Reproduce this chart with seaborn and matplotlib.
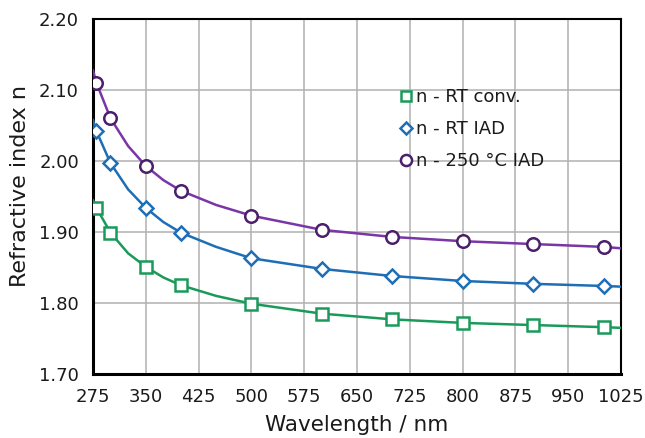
import matplotlib
matplotlib.use("Agg")
import matplotlib.pyplot as plt
import seaborn as sns
import pandas as pd

# measured points (markers)
wl = [280, 300, 350, 400, 500, 600, 700, 800, 900, 1000]
n_rt_conv = [1.934, 1.899, 1.851, 1.825, 1.799, 1.785, 1.777, 1.772, 1.769, 1.766]
n_rt_iad = [2.042, 1.997, 1.934, 1.899, 1.863, 1.848, 1.838, 1.831, 1.827, 1.824]
n_250_iad = [2.110, 2.060, 1.993, 1.958, 1.923, 1.903, 1.893, 1.887, 1.883, 1.879]

# fitted curves
wl_line = [275, 280, 300, 325, 350, 375, 400, 450, 500, 600, 700, 800, 900, 1000, 1025]
line_rt_conv = [1.945, 1.934, 1.899, 1.870, 1.851, 1.836, 1.825, 1.810, 1.799, 1.785, 1.777, 1.772, 1.769, 1.766, 1.765]
line_rt_iad = [2.058, 2.042, 1.997, 1.960, 1.934, 1.914, 1.899, 1.879, 1.863, 1.848, 1.838, 1.831, 1.827, 1.824, 1.823]
line_250_iad = [2.128, 2.110, 2.060, 2.021, 1.993, 1.973, 1.958, 1.938, 1.923, 1.903, 1.893, 1.887, 1.883, 1.879, 1.877]

labels = ["n - RT conv.", "n - RT IAD", "n - 250 °C IAD"]
x_ticks = [275, 350, 425, 500, 575, 650, 725, 800, 875, 950, 1025]
y_ticks = [1.70, 1.80, 1.90, 2.00, 2.10, 2.20]

sns.set_style("white")
plt.rcParams['font.family'] = ['DejaVu Sans']

fig = plt.figure(figsize=(6.45, 4.38), dpi=100)
ax = fig.add_axes([0.144, 0.146, 0.819, 0.811])

specs = [
    (line_rt_conv, n_rt_conv, "#1A9A5A", "#1A9A5A", "s", 8.5),
    (line_rt_iad, n_rt_iad, "#1E6EB6", "#1E6EB6", "D", 7.5),
    (line_250_iad, n_250_iad, "#7A35A6", "#4A1F6B", "o", 9),
]
handles = []
for (ly, my, lc, mc, mk, ms), lab in zip(specs, labels):
    dfl = pd.DataFrame({"x": wl_line, "y": ly})
    sns.lineplot(data=dfl, x="x", y="y", ax=ax, color=lc, lw=1.8, zorder=3)
    dfm = pd.DataFrame({"x": wl, "y": my})
    ax.plot(dfm["x"], dfm["y"], ls="none", marker=mk, ms=ms, mfc="white",
            mec=mc, mew=1.8, zorder=4)
    h, = ax.plot([], [], ls="none", marker=mk, ms=ms - 1, mfc="white", mec=mc, mew=1.8)
    handles.append(h)

ax.set_xlim(275, 1025)
ax.set_ylim(1.70, 2.20)
ax.set_xticks(x_ticks)
ax.set_yticks(y_ticks)
ax.set_yticklabels([f"{v:.2f}" for v in y_ticks])
ax.grid(True, color="#B0B0B0", lw=1.1)
ax.set_axisbelow(True)
for s in ax.spines.values():
    s.set_visible(True)
    s.set_color("black")
    s.set_linewidth(1.5)
ax.spines["left"].set_linewidth(2.2)
ax.spines["bottom"].set_linewidth(2.2)
ax.tick_params(axis="both", direction="out", length=5, width=1, color="#333333",
               labelsize=13, labelcolor="#1a1a1a", pad=5)
ax.set_xlabel("Wavelength / nm", fontsize=15.5, color="#1a1a1a", labelpad=6.5)
ax.set_ylabel("Refractive index n", fontsize=16, color="#1a1a1a")
ax.yaxis.set_label_coords(-0.119, 0.528)

leg = ax.legend(handles, labels, loc="upper left", bbox_to_anchor=(0.568, 0.825),
                frameon=False, fontsize=13, handlelength=0.6, handletextpad=0.3,
                labelspacing=0.77, borderaxespad=0)
for t in leg.get_texts():
    t.set_color("#1a1a1a")

fig.savefig("out.png", dpi=100)
